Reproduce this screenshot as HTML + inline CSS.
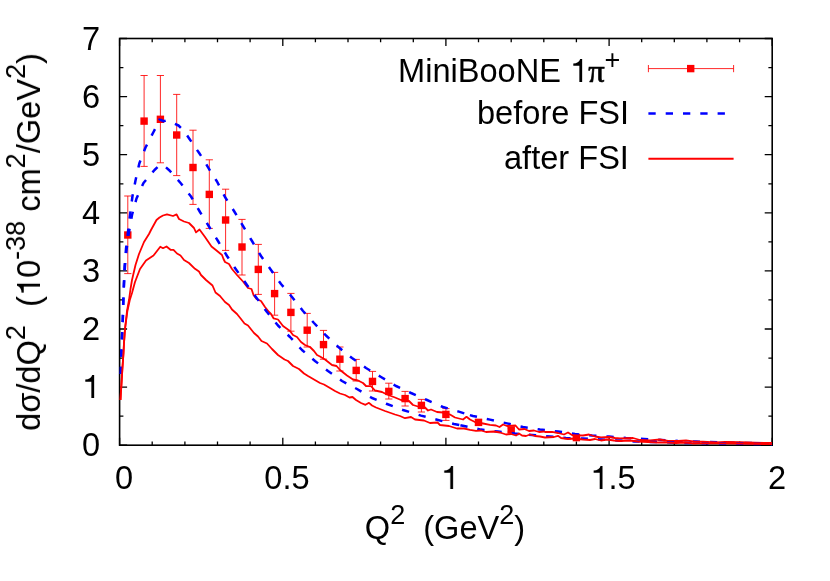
<!DOCTYPE html>
<html><head><meta charset="utf-8"><title>plot</title>
<style>
html,body{margin:0;padding:0;background:#fff;}
body{width:830px;height:581px;position:relative;overflow:hidden;font-family:"Liberation Sans",sans-serif;color:#000;}
.t{position:absolute;will-change:transform;white-space:pre;font-size:32.6px;line-height:1;}
.sup{font-size:0.83em;position:relative;top:-0.565em;line-height:0;}
.sym{font-family:"Liberation Serif",serif;-webkit-text-stroke:0.7px #000;}
.pl{position:relative;top:2px;left:0px;}
.one{width:0.556em;height:0.709em;vertical-align:baseline;display:inline-block;overflow:visible;}
</style></head><body>

<svg width="830" height="581" viewBox="0 0 830 581" style="position:absolute;left:0;top:0">
<g stroke="#000" stroke-width="1.6" fill="none">
<rect x="119.6" y="38.5" width="652.6" height="406.7"/>
</g>
<g stroke="#000" stroke-width="1.3" fill="none">
<path d="M119.6,445.2 v-7.5 M119.6,38.5 v7.5"/>
<path d="M152.2,445.2 v-3.8 M152.2,38.5 v3.8"/>
<path d="M184.9,445.2 v-3.8 M184.9,38.5 v3.8"/>
<path d="M217.5,445.2 v-3.8 M217.5,38.5 v3.8"/>
<path d="M250.1,445.2 v-3.8 M250.1,38.5 v3.8"/>
<path d="M282.8,445.2 v-7.5 M282.8,38.5 v7.5"/>
<path d="M315.4,445.2 v-3.8 M315.4,38.5 v3.8"/>
<path d="M348.0,445.2 v-3.8 M348.0,38.5 v3.8"/>
<path d="M380.6,445.2 v-3.8 M380.6,38.5 v3.8"/>
<path d="M413.3,445.2 v-3.8 M413.3,38.5 v3.8"/>
<path d="M445.9,445.2 v-7.5 M445.9,38.5 v7.5"/>
<path d="M478.5,445.2 v-3.8 M478.5,38.5 v3.8"/>
<path d="M511.2,445.2 v-3.8 M511.2,38.5 v3.8"/>
<path d="M543.8,445.2 v-3.8 M543.8,38.5 v3.8"/>
<path d="M576.4,445.2 v-3.8 M576.4,38.5 v3.8"/>
<path d="M609.1,445.2 v-7.5 M609.1,38.5 v7.5"/>
<path d="M641.7,445.2 v-3.8 M641.7,38.5 v3.8"/>
<path d="M674.3,445.2 v-3.8 M674.3,38.5 v3.8"/>
<path d="M706.9,445.2 v-3.8 M706.9,38.5 v3.8"/>
<path d="M739.6,445.2 v-3.8 M739.6,38.5 v3.8"/>
<path d="M772.2,445.2 v-7.5 M772.2,38.5 v7.5"/>
<path d="M119.6,445.2 h7.5 M772.2,445.2 h-7.5"/>
<path d="M119.6,416.1 h3.8 M772.2,416.1 h-3.8"/>
<path d="M119.6,387.1 h7.5 M772.2,387.1 h-7.5"/>
<path d="M119.6,358.1 h3.8 M772.2,358.1 h-3.8"/>
<path d="M119.6,329.0 h7.5 M772.2,329.0 h-7.5"/>
<path d="M119.6,299.9 h3.8 M772.2,299.9 h-3.8"/>
<path d="M119.6,270.9 h7.5 M772.2,270.9 h-7.5"/>
<path d="M119.6,241.8 h3.8 M772.2,241.8 h-3.8"/>
<path d="M119.6,212.8 h7.5 M772.2,212.8 h-7.5"/>
<path d="M119.6,183.8 h3.8 M772.2,183.8 h-3.8"/>
<path d="M119.6,154.7 h7.5 M772.2,154.7 h-7.5"/>
<path d="M119.6,125.6 h3.8 M772.2,125.6 h-3.8"/>
<path d="M119.6,96.6 h7.5 M772.2,96.6 h-7.5"/>
<path d="M119.6,67.6 h3.8 M772.2,67.6 h-3.8"/>
<path d="M119.6,38.5 h7.5 M772.2,38.5 h-7.5"/>
</g>
<g stroke="#ff0000" stroke-width="0.85" fill="none">
<path d="M127.8,196.0 V273.6 M124.2,196.0 h7.2 M124.2,273.6 h7.2"/>
<path d="M144.1,75.5 V166.4 M140.5,75.5 h7.2 M140.5,166.4 h7.2"/>
<path d="M160.4,75.5 V162.8 M156.8,75.5 h7.2 M156.8,162.8 h7.2"/>
<path d="M176.7,94.4 V175.6 M173.1,94.4 h7.2 M173.1,175.6 h7.2"/>
<path d="M193.0,130.2 V204.4 M189.4,130.2 h7.2 M189.4,204.4 h7.2"/>
<path d="M209.3,159.8 V228.4 M205.7,159.8 h7.2 M205.7,228.4 h7.2"/>
<path d="M225.6,189.2 V250.4 M222.0,189.2 h7.2 M222.0,250.4 h7.2"/>
<path d="M242.0,219.4 V275.0 M238.4,219.4 h7.2 M238.4,275.0 h7.2"/>
<path d="M258.3,244.4 V294.4 M254.7,244.4 h7.2 M254.7,294.4 h7.2"/>
<path d="M274.6,272.4 V315.2 M271.0,272.4 h7.2 M271.0,315.2 h7.2"/>
<path d="M290.9,293.4 V331.2 M287.3,293.4 h7.2 M287.3,331.2 h7.2"/>
<path d="M307.2,313.4 V347.0 M303.6,313.4 h7.2 M303.6,347.0 h7.2"/>
<path d="M323.5,330.4 V359.2 M319.9,330.4 h7.2 M319.9,359.2 h7.2"/>
<path d="M339.9,347.0 V371.0 M336.3,347.0 h7.2 M336.3,371.0 h7.2"/>
<path d="M356.2,359.4 V381.0 M352.6,359.4 h7.2 M352.6,381.0 h7.2"/>
<path d="M372.5,371.4 V391.0 M368.9,371.4 h7.2 M368.9,391.0 h7.2"/>
<path d="M388.8,383.2 V399.0 M385.2,383.2 h7.2 M385.2,399.0 h7.2"/>
<path d="M405.1,391.4 V406.0 M401.5,391.4 h7.2 M401.5,406.0 h7.2"/>
<path d="M421.4,399.4 V412.0 M417.8,399.4 h7.2 M417.8,412.0 h7.2"/>
<path d="M445.9,408.6 V420.4 M442.3,408.6 h7.2 M442.3,420.4 h7.2"/>
<path d="M478.5,419.4 V425.4 M474.9,419.4 h7.2 M474.9,425.4 h7.2"/>
<path d="M511.2,428.0 V432.0 M507.6,428.0 h7.2 M507.6,432.0 h7.2"/>
<path d="M576.4,436.4 V438.8 M572.8,436.4 h7.2 M572.8,438.8 h7.2"/>
</g>
<rect x="124.1" y="231.3" width="7.4" height="7.4" fill="#ff0000"/>
<rect x="140.4" y="117.4" width="7.4" height="7.4" fill="#ff0000"/>
<rect x="156.7" y="115.6" width="7.4" height="7.4" fill="#ff0000"/>
<rect x="173.0" y="131.3" width="7.4" height="7.4" fill="#ff0000"/>
<rect x="189.3" y="163.8" width="7.4" height="7.4" fill="#ff0000"/>
<rect x="205.6" y="190.7" width="7.4" height="7.4" fill="#ff0000"/>
<rect x="221.9" y="216.3" width="7.4" height="7.4" fill="#ff0000"/>
<rect x="238.3" y="243.3" width="7.4" height="7.4" fill="#ff0000"/>
<rect x="254.6" y="265.7" width="7.4" height="7.4" fill="#ff0000"/>
<rect x="270.9" y="289.9" width="7.4" height="7.4" fill="#ff0000"/>
<rect x="287.2" y="308.7" width="7.4" height="7.4" fill="#ff0000"/>
<rect x="303.5" y="326.5" width="7.4" height="7.4" fill="#ff0000"/>
<rect x="319.8" y="340.9" width="7.4" height="7.4" fill="#ff0000"/>
<rect x="336.2" y="355.5" width="7.4" height="7.4" fill="#ff0000"/>
<rect x="352.5" y="366.7" width="7.4" height="7.4" fill="#ff0000"/>
<rect x="368.8" y="377.7" width="7.4" height="7.4" fill="#ff0000"/>
<rect x="385.1" y="387.7" width="7.4" height="7.4" fill="#ff0000"/>
<rect x="401.4" y="394.9" width="7.4" height="7.4" fill="#ff0000"/>
<rect x="417.7" y="401.7" width="7.4" height="7.4" fill="#ff0000"/>
<rect x="442.2" y="410.7" width="7.4" height="7.4" fill="#ff0000"/>
<rect x="474.8" y="418.7" width="7.4" height="7.4" fill="#ff0000"/>
<rect x="507.5" y="426.3" width="7.4" height="7.4" fill="#ff0000"/>
<rect x="572.7" y="433.9" width="7.4" height="7.4" fill="#ff0000"/>
<path d="M120.6,380.0 L121.0,370.0 L121.3,353.0 L122.0,337.0 L122.8,319.0 L123.3,301.0 L123.9,284.0 L124.6,266.0 L126.0,249.0 L128.0,232.0 L130.0,215.0 L132.5,196.0 L135.5,180.5 L139.3,163.5 L145.5,147.5 L153.5,132.0 L157.0,125.5 L159.5,119.6 L161.5,120.2 L163.5,121.3 L166.5,120.3 L170.0,121.5 L178.5,125.5 L184.0,131.0 L189.0,138.2 L194.0,145.5 L199.0,152.8 L204.0,160.3 L209.0,169.0 L217.0,181.5 L225.0,197.0 L234.0,211.0 L241.3,223.2" fill="none" stroke="#0000ff" stroke-width="2.5" stroke-dasharray="7.3 10" stroke-dashoffset="-6" stroke-linejoin="round"/>
<path d="M241.3,223.2 L243.0,226.0 L252.0,241.0 L261.0,256.0 L271.0,270.0 L281.0,284.0 L292.0,297.0 L303.0,311.0 L314.0,323.0 L326.0,335.5 L339.0,347.6 L352.0,358.0 L366.0,368.0 L381.0,377.0 L396.0,386.0 L411.0,393.0 L427.0,400.0 L443.0,407.0 L458.0,411.4 L469.9,415.1" fill="none" stroke="#0000ff" stroke-width="2.5" stroke-dasharray="7.3 10" stroke-dashoffset="0" stroke-linejoin="round"/>
<path d="M469.9,415.1 L473.0,416.0 L490.0,419.6 L507.0,423.4 L523.0,427.0 L540.0,429.5 L558.0,431.5 L575.0,434.0 L592.0,435.6 L609.0,436.6 L626.0,438.0 L644.0,439.0 L661.0,440.0 L678.0,441.0 L696.0,441.6 L740.0,442.8 L772.0,443.6" fill="none" stroke="#0000ff" stroke-width="2.5" stroke-dasharray="7.3 10" stroke-dashoffset="0" stroke-linejoin="round"/>
<path d="M120.5,400.0 L120.9,392.0 L121.3,387.0 L122.3,370.0 L123.5,353.0 L124.0,343.0 L125.0,329.0 L126.0,320.0 L127.0,311.0 L129.0,300.0 L130.5,289.0 L132.0,280.0 L135.5,265.0 L139.0,254.0 L144.0,242.0 L149.0,234.0 L151.0,230.0 L156.5,220.0 L159.5,217.5 L163.0,215.5 L167.0,214.3 L173.0,216.0 L176.6,214.4 L179.0,219.0 L184.0,221.5 L189.0,223.0 L194.0,228.0 L196.0,232.4 L199.5,229.5 L205.0,237.0 L211.5,246.5 L216.5,250.5 L222.0,255.0 L223.5,259.0 L225.0,262.0 L229.0,264.0 L232.0,269.0 L237.0,275.0 L243.0,281.5 L248.0,288.0 L251.5,289.0 L253.5,295.0 L256.5,299.0 L261.0,301.0 L265.0,307.0 L269.0,312.0 L271.0,314.0 L273.5,318.3 L278.0,319.5 L283.0,326.0 L290.0,331.0 L293.0,335.0 L297.0,337.0 L301.0,342.0 L305.0,345.0 L310.0,347.0 L314.0,351.0 L317.0,355.0 L320.0,356.5 L325.0,359.5 L332.0,365.0 L336.5,366.0 L340.0,370.0 L347.0,375.5 L353.0,379.5 L358.0,380.5 L363.0,383.0 L366.0,386.0 L371.0,386.2 L375.0,390.5 L382.0,392.0 L387.0,394.5 L391.0,396.0 L395.0,397.5 L401.0,400.0 L409.0,401.0 L413.0,405.0 L418.0,406.5 L425.0,407.5 L428.0,410.5 L431.0,409.5 L437.0,412.0 L443.0,412.5 L450.0,414.5 L455.0,417.5 L463.0,419.5 L466.5,416.8 L470.0,419.5 L475.0,422.0 L483.0,423.5 L490.0,424.8 L496.0,425.5 L499.5,427.0 L503.0,424.5 L507.0,426.0 L515.5,425.5 L519.0,429.5 L524.5,429.0 L529.0,431.0 L534.0,430.5 L539.0,432.0 L544.0,431.5 L545.0,432.0 L552.0,431.8 L558.0,433.0 L564.0,434.5 L568.0,432.5 L572.0,435.0 L577.0,435.3 L583.0,435.5 L589.0,434.5 L595.0,436.5 L601.0,437.5 L609.0,437.0 L615.0,438.0 L620.0,438.5 L633.0,438.0 L640.0,440.0 L650.0,440.5 L660.0,439.5 L668.0,441.0 L678.0,441.0 L686.0,440.5 L695.0,441.6 L703.0,441.7 L716.0,442.3 L725.0,441.9 L740.0,442.2 L755.0,442.7 L772.0,442.9" fill="none" stroke="#ff0000" stroke-width="1.8" stroke-linejoin="round"/>
<path d="M120.6,380.0 L121.0,370.0 L121.3,353.0 L122.0,337.0 L122.8,319.0 L123.3,301.0 L124.0,284.0 L125.0,266.0 L126.6,249.0 L129.0,232.0 L132.0,215.0 L136.5,198.5 L143.5,183.0 L154.5,170.0 L160.0,164.8 L165.0,166.5 L169.5,170.5 L181.0,183.5 L191.0,196.5 L200.0,212.0 L209.0,226.5 L218.0,241.0 L227.0,256.0 L235.0,268.0 L247.0,285.0 L257.0,298.5 L267.0,312.0 L278.0,325.5 L290.0,337.0 L302.0,350.0 L315.0,361.0 L328.0,371.0 L342.0,381.0 L357.0,389.0 L372.0,398.0 L387.0,404.0 L403.0,410.0 L421.0,415.6 L438.0,420.0 L454.0,424.0 L460.4,425.2" fill="none" stroke="#0000ff" stroke-width="2.5" stroke-dasharray="7.3 10" stroke-dashoffset="-6" stroke-linejoin="round"/>
<path d="M460.4,425.2 L464.0,426.0 L481.0,429.6 L498.0,431.6 L515.0,433.6 L532.0,435.0 L550.0,436.5 L566.0,438.0 L583.0,438.6 L600.0,439.4 L617.0,440.4 L634.0,441.4 L652.0,442.0 L670.0,442.4 L688.0,443.0 L740.0,443.8 L772.0,444.2" fill="none" stroke="#0000ff" stroke-width="2.5" stroke-dasharray="7.3 10" stroke-dashoffset="0" stroke-linejoin="round"/>
<path d="M120.5,400.0 L120.9,392.0 L121.3,387.0 L122.3,370.0 L123.5,353.0 L124.0,343.0 L125.0,329.0 L126.2,320.0 L127.4,311.0 L129.8,300.0 L132.0,293.0 L135.0,282.0 L140.0,269.0 L146.0,260.5 L153.5,255.5 L157.0,251.0 L160.3,246.8 L163.0,248.2 L166.5,246.5 L170.5,249.8 L173.5,249.8 L177.0,253.5 L180.5,255.5 L184.0,260.0 L189.0,263.0 L195.0,268.8 L199.0,271.5 L201.0,275.0 L206.0,280.0 L212.5,285.5 L215.5,292.5 L220.0,296.0 L225.0,302.0 L229.0,305.0 L232.0,309.5 L237.0,314.0 L241.0,319.0 L244.5,323.5 L248.0,325.5 L254.0,333.0 L258.0,336.5 L261.5,341.0 L267.0,343.5 L272.0,349.0 L278.0,355.0 L284.5,359.5 L288.0,361.0 L293.0,366.0 L299.0,369.0 L304.0,373.5 L308.0,376.0 L314.0,379.5 L320.0,383.0 L324.0,384.5 L330.0,388.0 L335.0,391.0 L340.0,393.5 L345.0,395.0 L349.5,397.5 L352.5,397.0 L356.0,400.0 L361.0,403.0 L365.5,404.8 L369.0,402.8 L372.0,405.5 L376.0,407.5 L385.0,411.0 L395.0,414.5 L400.0,416.0 L405.0,418.2 L411.0,417.0 L415.0,419.5 L424.0,420.5 L430.0,423.0 L437.5,422.5 L440.0,425.0 L449.0,426.0 L457.0,428.5 L464.0,428.5 L470.0,429.8 L476.0,430.8 L481.0,430.5 L486.0,432.0 L494.0,431.5 L500.0,432.5 L506.0,434.5 L511.0,434.0 L516.0,435.5 L519.0,433.5 L522.0,435.5 L526.0,436.0 L530.0,434.5 L535.0,436.0 L540.0,436.5 L545.0,437.5 L554.0,437.0 L558.0,435.8 L561.0,438.0 L568.0,439.0 L574.0,438.5 L583.0,439.5 L590.0,440.0 L595.0,439.0 L601.0,440.5 L607.0,439.5 L614.0,440.5 L620.0,441.0 L630.0,440.5 L638.0,441.5 L648.0,442.0 L658.0,442.5 L667.0,442.5 L676.0,443.0 L685.0,442.5 L694.0,443.5 L703.0,443.2 L740.0,443.7 L772.0,444.1" fill="none" stroke="#ff0000" stroke-width="1.8" stroke-linejoin="round"/>
<g stroke="#ff0000" stroke-width="0.85" fill="none"><path d="M648.4,68.6 H733.6 M648.4,65 v7.2 M733.6,65 v7.2"/></g>
<rect x="687" y="64.9" width="7.4" height="7.4" fill="#ff0000"/>
<path d="M648.4,113.6 H733.6" stroke="#0000ff" stroke-width="2.5" stroke-dasharray="7.3 10" fill="none"/>
<path d="M648.4,158.8 H733.6" stroke="#ff0000" stroke-width="2.0" fill="none"/>
</svg>
<div class="t" style="right:729.5px;top:429.2px;">0</div>
<div class="t" style="right:729.5px;top:371.1px;"><svg class="one" viewBox="0 0 556 709"><path d="M373 709 L287 709 L287 204 L101 204 L101 141 Q268 134 313 0 L373 0 Z" fill="#000"/></svg></div>
<div class="t" style="right:729.5px;top:313.0px;">2</div>
<div class="t" style="right:729.5px;top:254.9px;">3</div>
<div class="t" style="right:729.5px;top:196.8px;">4</div>
<div class="t" style="right:729.5px;top:138.7px;">5</div>
<div class="t" style="right:729.5px;top:80.6px;">6</div>
<div class="t" style="right:729.5px;top:22.5px;">7</div>
<div class="t" style="left:123.9px;top:462.0px;transform:translateX(-50%);">0</div>
<div class="t" style="left:287.1px;top:462.0px;transform:translateX(-50%);">0.5</div>
<div class="t" style="left:450.2px;top:462.0px;transform:translateX(-50%);"><svg class="one" viewBox="0 0 556 709"><path d="M373 709 L287 709 L287 204 L101 204 L101 141 Q268 134 313 0 L373 0 Z" fill="#000"/></svg></div>
<div class="t" style="left:613.4px;top:462.0px;transform:translateX(-50%);"><svg class="one" viewBox="0 0 556 709"><path d="M373 709 L287 709 L287 204 L101 204 L101 141 Q268 134 313 0 L373 0 Z" fill="#000"/></svg>.5</div>
<div class="t" style="left:776.5px;top:462.0px;transform:translateX(-50%);">2</div>
<div class="t" id="xl" style="left:444.7px;top:512.4px;transform:translateX(-50%);">Q<span class="sup">2</span>  (GeV<span class="sup">2</span>)</div>
<div class="t" id="yl" style="left:40px;top:242px;transform-origin:0 0;transform:rotate(-90deg) translate(-50%,-27.0px);">d<span class="sg">σ</span>/dQ<span class="sup">2</span>  (<svg class="one" viewBox="0 0 556 709"><path d="M373 709 L287 709 L287 204 L101 204 L101 141 Q268 134 313 0 L373 0 Z" fill="#000"/></svg>0<span class="sup">-38</span> cm<span class="sup">2</span>/GeV<span class="sup">2</span>)</div>
<div class="t" style="right:210.0px;top:55.4px;">MiniBooNE <svg class="one" viewBox="0 0 556 709"><path d="M373 709 L287 709 L287 204 L101 204 L101 141 Q268 134 313 0 L373 0 Z" fill="#000"/></svg><span class="sym">π</span><span class="sup"><span class="pl">+</span></span></div>
<div class="t" style="right:201.0px;top:97.2px;">before FSI</div>
<div class="t" style="right:201.0px;top:142.2px;">after FSI</div>
</body></html>
